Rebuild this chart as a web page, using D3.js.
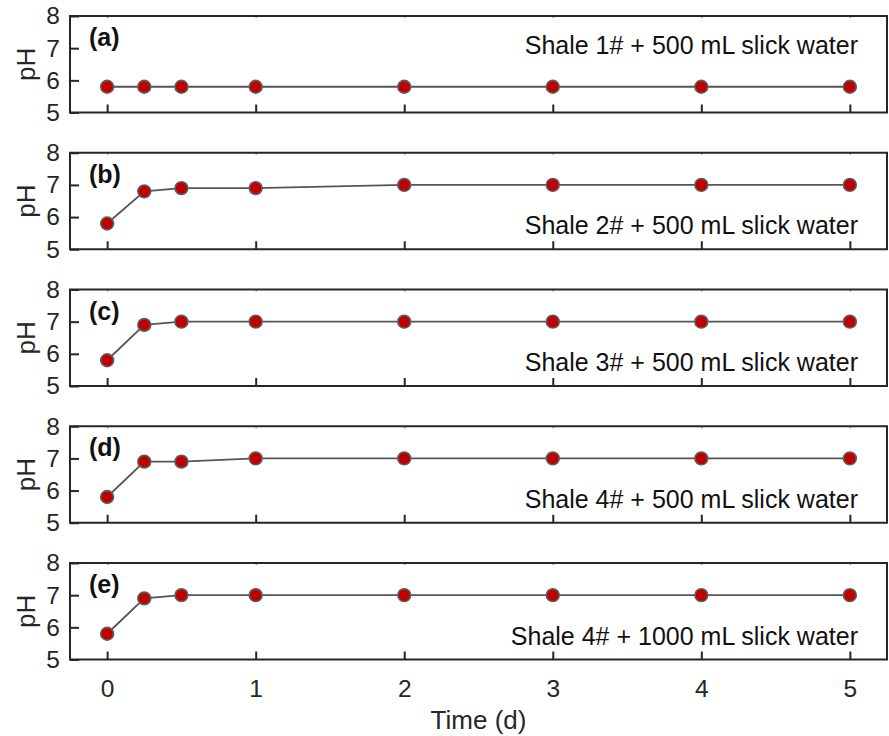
<!DOCTYPE html>
<html><head><meta charset="utf-8">
<script src="https://cdn.jsdelivr.net/npm/d3@7"></script>
<style>body{margin:0;background:#fff}svg{display:block}</style>
</head><body>
<svg id="chart" width="889" height="736"></svg>
<script>
const times = [0, 0.25, 0.5, 1, 2, 3, 4, 5];
const panelLabels = ["(a)", "(b)", "(c)", "(d)", "(e)"];
const panelTitles = [
  "Shale 1# + 500 mL slick water",
  "Shale 2# + 500 mL slick water",
  "Shale 3# + 500 mL slick water",
  "Shale 4# + 500 mL slick water",
  "Shale 4# + 1000 mL slick water"
];
const phA = [5.8, 5.8, 5.8, 5.8, 5.8, 5.8, 5.8, 5.8];
const phB = [5.8, 6.8, 6.9, 6.9, 7.0, 7.0, 7.0, 7.0];
const phC = [5.8, 6.9, 7.0, 7.0, 7.0, 7.0, 7.0, 7.0];
const phD = [5.8, 6.9, 6.9, 7.0, 7.0, 7.0, 7.0, 7.0];
const phE = [5.8, 6.9, 7.0, 7.0, 7.0, 7.0, 7.0, 7.0];
const xTicks = [0, 1, 2, 3, 4, 5];
const yTicks = [5, 6, 7, 8];
const xLabel = "Time (d)";
const yLabel = "pH";

const series = [phA, phB, phC, phD, phE];
const titleAtTop = [true, false, false, false, false];

const FONT = "'Liberation Sans', Arial, Helvetica, sans-serif";
const INK = "#262626";
const svg = d3.select("#chart");
const left = 70, right = 887;
const panelTop0 = 16, panelStep = 136.75, panelH = 96.5;

const x = d3.scaleLinear().domain([-0.25, 5.25]).range([left, right]);

series.forEach((vals, i) => {
  const top = panelTop0 + i * panelStep;
  const y = d3.scaleLinear().domain([5, 8]).range([top + panelH, top]);
  const g = svg.append("g");

  // bottom ticks (inward)
  const xb = g.append("g").attr("transform", `translate(0,${top + panelH})`)
    .call(d3.axisBottom(x).tickValues(xTicks).tickSizeInner(-8).tickSizeOuter(0)
      .tickPadding(i === 4 ? 20 : 0).tickFormat(i === 4 ? d3.format("d") : () => ""));
  xb.select(".domain").remove();
  xb.selectAll(".tick line").attr("stroke", INK).attr("stroke-width", 2);
  xb.selectAll(".tick text").attr("font-family", FONT).attr("font-size", 24.5).attr("fill", INK);

  // top ticks (small, inward)
  const xt = g.append("g").attr("transform", `translate(0,${top})`)
    .call(d3.axisTop(x).tickValues(xTicks).tickSizeInner(-2).tickSizeOuter(0).tickFormat(() => ""));
  xt.select(".domain").remove();
  xt.selectAll(".tick line").attr("stroke", INK).attr("stroke-width", 1.2).attr("opacity", 0.6);

  // left ticks (inward)
  const yl = g.append("g").attr("transform", `translate(${left},0)`)
    .call(d3.axisLeft(y).tickValues(yTicks).tickSizeInner(-9).tickSizeOuter(0).tickFormat(d3.format("d")));
  yl.select(".domain").remove();
  yl.selectAll(".tick line").attr("stroke", INK).attr("stroke-width", 2);
  yl.selectAll(".tick text").attr("font-family", FONT).attr("font-size", 24.5).attr("fill", INK)
    .attr("x", -10);

  // frame
  g.append("rect").attr("x", left).attr("y", top).attr("width", right - left).attr("height", panelH)
    .attr("fill", "none").attr("stroke", INK).attr("stroke-width", 2);

  // y label
  g.append("text").attr("transform", `translate(26,${top + panelH / 2}) rotate(-90)`)
    .attr("text-anchor", "middle").attr("dominant-baseline", "central")
    .attr("font-family", FONT).attr("font-size", 26).attr("fill", INK).text(yLabel);

  // line
  const line = d3.line().x((d, j) => x(times[j])).y(d => y(d));
  g.append("path").datum(vals).attr("d", line).attr("fill", "none")
    .attr("stroke", "#555555").attr("stroke-width", 1.8);

  // markers
  g.selectAll("circle.pt").data(vals).join("circle").attr("class", "pt")
    .attr("cx", (d, j) => x(times[j])).attr("cy", d => y(d)).attr("r", 6.4)
    .attr("fill", "#c00000").attr("stroke", "#5e5e5e").attr("stroke-width", 1.6);

  // panel label
  g.append("text").attr("x", 89).attr("y", top + 30)
    .attr("font-family", FONT).attr("font-weight", "bold").attr("font-size", 25).attr("fill", "#111")
    .text(panelLabels[i]);

  // annotation
  g.append("text").attr("x", 858).attr("y", titleAtTop[i] ? top + 38 : top + panelH - 15)
    .attr("text-anchor", "end")
    .attr("font-family", FONT).attr("font-size", 25).attr("fill", "#111")
    .text(panelTitles[i]);
});

svg.append("text").attr("x", (left + right) / 2).attr("y", 729).attr("text-anchor", "middle")
  .attr("font-family", FONT).attr("font-size", 26).attr("fill", INK).text(xLabel);
</script>
</body></html>
